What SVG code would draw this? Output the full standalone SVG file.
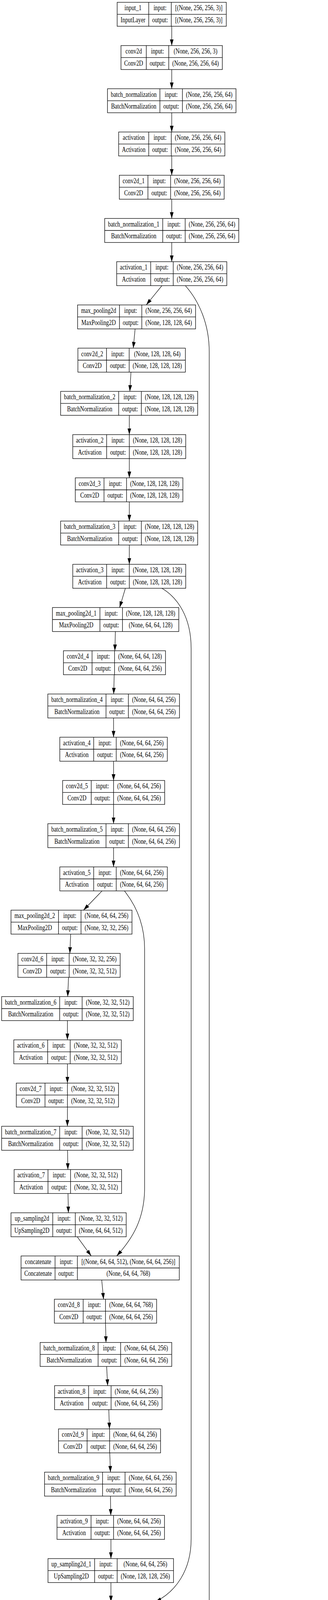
<svg xmlns="http://www.w3.org/2000/svg" width="840" height="7820" viewBox="0 0 840 7820">
<style>
.node rect,.node path{fill:none;stroke:#000;stroke-width:1.3}
.node text{font-family:"Liberation Serif","Times New Roman",serif;font-size:18.7px;text-anchor:middle;fill:#000;transform-box:fill-box;transform-origin:center;transform:scaleX(0.765)}
#connectors path{fill:none;stroke:#000;stroke-width:1.2;marker-end:url(#ah)}
</style>
<defs>
<marker id="ah" viewBox="0 0 16 9.4" refX="16" refY="4.7" markerWidth="16" markerHeight="9.4" markerUnits="userSpaceOnUse" orient="auto"><path d="M0,0L16,4.7L0,9.4z" fill="#000"/></marker>
</defs>
<rect width="840" height="7820" fill="#fff"/>
<g id="connectors">
<path d="M439.8 67.3V116.6"/>
<path d="M439.8 178V227.2"/>
<path d="M439.8 288.6V337.9"/>
<path d="M439.8 399.3V448.6"/>
<path d="M439.8 510V559.3"/>
<path d="M439.8 620.7V669.9"/>
<path d="M414.6 731.3L374.6 780.6"/>
<path d="M346 842L341.3 891.3"/>
<path d="M335.4 952.7L332.5 1001.9"/>
<path d="M331.2 1063.3V1112.6"/>
<path d="M331.2 1174V1223.3"/>
<path d="M331.2 1284.7V1333.9"/>
<path d="M331.2 1395.3V1444.6"/>
<path d="M321.1 1506L306.4 1555.3"/>
<path d="M295.5 1616.7L294.2 1665.9"/>
<path d="M292.5 1727.4L291.2 1776.6"/>
<path d="M290.8 1838V1887.3"/>
<path d="M290.8 1948.7V1998"/>
<path d="M290.8 2059.4V2108.6"/>
<path d="M290.8 2170V2219.3"/>
<path d="M261.4 2280.7L213.8 2330"/>
<path d="M181 2391.4L178.9 2440.6"/>
<path d="M175.5 2502L173.4 2551.3"/>
<path d="M172.6 2612.7V2662"/>
<path d="M172.6 2723.4V2772.7"/>
<path d="M172.6 2834.1V2883.3"/>
<path d="M173 2944.7L173.8 2994"/>
<path d="M174.2 3055.4L175.1 3104.7"/>
<path d="M197.8 3166.1L233.6 3215.3"/>
<path d="M260.5 3276.7L265.2 3326"/>
<path d="M270.2 3387.4L271.5 3436.7"/>
<path d="M273.1 3498.1L275.7 3547.3"/>
<path d="M278.6 3608.7L280.3 3658"/>
<path d="M281.1 3719.4L282.8 3768.7"/>
<path d="M282.8 3830.1L283.7 3879.4"/>
<path d="M284.1 3940.8V3990"/>
<path d="M284.1 4051.4V4100.7"/>
<path d="M284.5 4162.1L285.4 4211.4"/>
<path d="M292.5 4272.8L301.3 4322"/>
<path d="M311 4383.4L314.8 4432.7"/>
<path d="M319.9 4494.1L321.5 4543.4"/>
<path d="M324.5 4604.8L326.2 4654"/>
<path d="M328.7 4715.4L331.2 4764.7"/>
<path d="M335.9 4826.1L339.6 4875.4"/>
<path d="M368.3 4936.8L410.4 4986.1"/>
<path d="M436.9 5047.5V5096.7"/>
<path d="M436.9 5158.1V5207.4"/>
<path d="M436.9 5268.8V5318.1"/>
<path d="M436.9 5379.5V5428.7"/>
<path d="M436.9 5490.1V5539.4"/>
<path d="M436.9 5600.8V5650.1"/>
<path d="M436.9 5711.5V5760.7"/>
<path d="M436.9 5822.1V5871.4"/>
<path d="M436.9 5932.8V5982.1"/>
<path d="M436.9 6043.5V6092.8"/>
<path d="M436.9 6154.2V6203.4"/>
<path d="M436.9 6264.8V6314.1"/>
<path d="M436.9 6375.5V6424.8"/>
<path d="M436.9 6486.2V6535.4"/>
<path d="M436.9 6596.8V6646.1"/>
<path d="M436.9 6707.5V6756.8"/>
<path d="M436.9 6818.2V6867.4"/>
<path d="M436.9 6928.8V6978.1"/>
<path d="M436.9 7039.5V7088.8"/>
<path d="M436.9 7150.2V7199.5"/>
<path d="M436.9 7260.9V7310.1"/>
<path d="M436.9 7371.5V7420.8"/>
<path d="M436.9 7482.2V7531.5"/>
<path d="M436.9 7592.9V7642.1"/>
<path d="M436.9 7703.5V7752.8"/>
<path d="M474.7 731.3C510 771 535.8 830 535.8 900V4820C535.8 4900 510 4945 475.6 4986.1"/>
<path d="M414.6 1506C455 1530 489.5 1580 489.5 1660V3940C489.5 4020 450 4075 397.7 4100.7"/>
<path d="M318.6 2280.7C350 2320 370.4 2370 370.4 2430V3040C370.4 3120 340 3170 298.8 3215.3"/>
</g>
<g id="input_1" class="node" transform="translate(0,5.9)"><rect x="300.1" width="279.4" height="61.4"/><path d="M300.1 30.7H579.5M380.9 0V61.4M438.6 0V61.4"/><text x="340.5" y="20.4">input_1</text><text x="340.5" y="51.1">InputLayer</text><text x="409.8" y="20.4">input:</text><text x="409.8" y="51.1">output:</text><text x="509.1" y="20.4">[(None, 256, 256, 3)]</text><text x="509.1" y="51.1">[(None, 256, 256, 3)]</text></g>
<g id="conv2d" class="node" transform="translate(0,116.6)"><rect x="309.8" width="259.6" height="61.4"/><path d="M309.8 30.7H569.4M374.6 0V61.4M432.2 0V61.4"/><text x="342.2" y="20.4">conv2d</text><text x="342.2" y="51.1">Conv2D</text><text x="403.4" y="20.4">input:</text><text x="403.4" y="51.1">output:</text><text x="500.8" y="20.4">(None, 256, 256, 3)</text><text x="500.8" y="51.1">(None, 256, 256, 64)</text></g>
<g id="batch_normalization" class="node" transform="translate(0,227.2)"><rect x="275.3" width="329.1" height="61.4"/><path d="M275.3 30.7H604.4M409.5 0V61.4M467.2 0V61.4"/><text x="342.4" y="20.4">batch_normalization</text><text x="342.4" y="51.1">BatchNormalization</text><text x="438.4" y="20.4">input:</text><text x="438.4" y="51.1">output:</text><text x="535.8" y="20.4">(None, 256, 256, 64)</text><text x="535.8" y="51.1">(None, 256, 256, 64)</text></g>
<g id="activation" class="node" transform="translate(0,337.9)"><rect x="303.9" width="271.9" height="61.4"/><path d="M303.9 30.7H575.8M380.9 0V61.4M438.6 0V61.4"/><text x="342.4" y="20.4">activation</text><text x="342.4" y="51.1">Activation</text><text x="409.8" y="20.4">input:</text><text x="409.8" y="51.1">output:</text><text x="507.2" y="20.4">(None, 256, 256, 64)</text><text x="507.2" y="51.1">(None, 256, 256, 64)</text></g>
<g id="conv2d_1" class="node" transform="translate(0,448.6)"><rect x="305.6" width="268.5" height="61.4"/><path d="M305.6 30.7H574.1M378.8 0V61.4M436.9 0V61.4"/><text x="342.2" y="20.4">conv2d_1</text><text x="342.2" y="51.1">Conv2D</text><text x="407.9" y="20.4">input:</text><text x="407.9" y="51.1">output:</text><text x="505.5" y="20.4">(None, 256, 256, 64)</text><text x="505.5" y="51.1">(None, 256, 256, 64)</text></g>
<g id="batch_normalization_1" class="node" transform="translate(0,559.3)"><rect x="268.1" width="343.4" height="61.4"/><path d="M268.1 30.7H611.5M416.7 0V61.4M474.3 0V61.4"/><text x="342.4" y="20.4">batch_normalization_1</text><text x="342.4" y="51.1">BatchNormalization</text><text x="445.5" y="20.4">input:</text><text x="445.5" y="51.1">output:</text><text x="542.9" y="20.4">(None, 256, 256, 64)</text><text x="542.9" y="51.1">(None, 256, 256, 64)</text></g>
<g id="activation_1" class="node" transform="translate(0,669.9)"><rect x="298.8" width="282" height="61.4"/><path d="M298.8 30.7H580.8M385.9 0V61.4M443.6 0V61.4"/><text x="342.4" y="20.4">activation_1</text><text x="342.4" y="51.1">Activation</text><text x="414.8" y="20.4">input:</text><text x="414.8" y="51.1">output:</text><text x="512.2" y="20.4">(None, 256, 256, 64)</text><text x="512.2" y="51.1">(None, 256, 256, 64)</text></g>
<g id="max_pooling2d" class="node" transform="translate(0,780.6)"><rect x="198.7" width="302.1" height="61.4"/><path d="M198.7 30.7H500.8M306 0V61.4M363.2 0V61.4"/><text x="252.4" y="20.4">max_pooling2d</text><text x="252.4" y="51.1">MaxPooling2D</text><text x="334.6" y="20.4">input:</text><text x="334.6" y="51.1">output:</text><text x="432" y="20.4">(None, 256, 256, 64)</text><text x="432" y="51.1">(None, 128, 128, 64)</text></g>
<g id="conv2d_2" class="node" transform="translate(0,891.3)"><rect x="199.5" width="275.2" height="61.4"/><path d="M199.5 30.7H474.7M272.7 0V61.4M330.8 0V61.4"/><text x="236.1" y="20.4">conv2d_2</text><text x="236.1" y="51.1">Conv2D</text><text x="301.8" y="20.4">input:</text><text x="301.8" y="51.1">output:</text><text x="402.8" y="20.4">(None, 128, 128, 64)</text><text x="402.8" y="51.1">(None, 128, 128, 128)</text></g>
<g id="batch_normalization_2" class="node" transform="translate(0,1001.9)"><rect x="155.3" width="351" height="61.4"/><path d="M155.3 30.7H506.3M303.9 0V61.4M362 0V61.4"/><text x="229.6" y="20.4">batch_normalization_2</text><text x="229.6" y="51.1">BatchNormalization</text><text x="333" y="20.4">input:</text><text x="333" y="51.1">output:</text><text x="434.2" y="20.4">(None, 128, 128, 128)</text><text x="434.2" y="51.1">(None, 128, 128, 128)</text></g>
<g id="activation_2" class="node" transform="translate(0,1112.6)"><rect x="186.4" width="289.2" height="61.4"/><path d="M186.4 30.7H475.6M273.1 0V61.4M331.2 0V61.4"/><text x="229.8" y="20.4">activation_2</text><text x="229.8" y="51.1">Activation</text><text x="302.2" y="20.4">input:</text><text x="302.2" y="51.1">output:</text><text x="403.4" y="20.4">(None, 128, 128, 128)</text><text x="403.4" y="51.1">(None, 128, 128, 128)</text></g>
<g id="conv2d_3" class="node" transform="translate(0,1223.3)"><rect x="192.8" width="275.6" height="61.4"/><path d="M192.8 30.7H468.4M266.4 0V61.4M324.1 0V61.4"/><text x="229.6" y="20.4">conv2d_3</text><text x="229.6" y="51.1">Conv2D</text><text x="295.3" y="20.4">input:</text><text x="295.3" y="51.1">output:</text><text x="396.3" y="20.4">(None, 128, 128, 128)</text><text x="396.3" y="51.1">(None, 128, 128, 128)</text></g>
<g id="batch_normalization_3" class="node" transform="translate(0,1333.9)"><rect x="155.3" width="351" height="61.4"/><path d="M155.3 30.7H506.3M303.9 0V61.4M362 0V61.4"/><text x="229.6" y="20.4">batch_normalization_3</text><text x="229.6" y="51.1">BatchNormalization</text><text x="333" y="20.4">input:</text><text x="333" y="51.1">output:</text><text x="434.2" y="20.4">(None, 128, 128, 128)</text><text x="434.2" y="51.1">(None, 128, 128, 128)</text></g>
<g id="activation_3" class="node" transform="translate(0,1444.6)"><rect x="186.4" width="289.2" height="61.4"/><path d="M186.4 30.7H475.6M273.1 0V61.4M331.2 0V61.4"/><text x="229.8" y="20.4">activation_3</text><text x="229.8" y="51.1">Activation</text><text x="302.2" y="20.4">input:</text><text x="302.2" y="51.1">output:</text><text x="403.4" y="20.4">(None, 128, 128, 128)</text><text x="403.4" y="51.1">(None, 128, 128, 128)</text></g>
<g id="max_pooling2d_1" class="node" transform="translate(0,1555.3)"><rect x="134.3" width="323.6" height="61.4"/><path d="M134.3 30.7H457.9M255.9 0V61.4M313.6 0V61.4"/><text x="195.1" y="20.4">max_pooling2d_1</text><text x="195.1" y="51.1">MaxPooling2D</text><text x="284.8" y="20.4">input:</text><text x="284.8" y="51.1">output:</text><text x="385.8" y="20.4">(None, 128, 128, 128)</text><text x="385.8" y="51.1">(None, 64, 64, 128)</text></g>
<g id="conv2d_4" class="node" transform="translate(0,1665.9)"><rect x="162.5" width="261.3" height="61.4"/><path d="M162.5 30.7H423.8M235.7 0V61.4M293.4 0V61.4"/><text x="199.1" y="20.4">conv2d_4</text><text x="199.1" y="51.1">Conv2D</text><text x="264.6" y="20.4">input:</text><text x="264.6" y="51.1">output:</text><text x="358.6" y="20.4">(None, 64, 64, 128)</text><text x="358.6" y="51.1">(None, 64, 64, 256)</text></g>
<g id="batch_normalization_4" class="node" transform="translate(0,1776.6)"><rect x="122.5" width="337.1" height="61.4"/><path d="M122.5 30.7H459.6M271.5 0V61.4M328.7 0V61.4"/><text x="197" y="20.4">batch_normalization_4</text><text x="197" y="51.1">BatchNormalization</text><text x="300.1" y="20.4">input:</text><text x="300.1" y="51.1">output:</text><text x="394.2" y="20.4">(None, 64, 64, 256)</text><text x="394.2" y="51.1">(None, 64, 64, 256)</text></g>
<g id="activation_4" class="node" transform="translate(0,1887.3)"><rect x="153.2" width="275.3" height="61.4"/><path d="M153.2 30.7H428.5M239.9 0V61.4M297.6 0V61.4"/><text x="196.6" y="20.4">activation_4</text><text x="196.6" y="51.1">Activation</text><text x="268.8" y="20.4">input:</text><text x="268.8" y="51.1">output:</text><text x="363.1" y="20.4">(None, 64, 64, 256)</text><text x="363.1" y="51.1">(None, 64, 64, 256)</text></g>
<g id="conv2d_5" class="node" transform="translate(0,1998)"><rect x="160.4" width="261.3" height="61.4"/><path d="M160.4 30.7H421.7M233.6 0V61.4M290.8 0V61.4"/><text x="197" y="20.4">conv2d_5</text><text x="197" y="51.1">Conv2D</text><text x="262.2" y="20.4">input:</text><text x="262.2" y="51.1">output:</text><text x="356.3" y="20.4">(None, 64, 64, 256)</text><text x="356.3" y="51.1">(None, 64, 64, 256)</text></g>
<g id="batch_normalization_5" class="node" transform="translate(0,2108.6)"><rect x="122.5" width="337.1" height="61.4"/><path d="M122.5 30.7H459.6M271.5 0V61.4M328.7 0V61.4"/><text x="197" y="20.4">batch_normalization_5</text><text x="197" y="51.1">BatchNormalization</text><text x="300.1" y="20.4">input:</text><text x="300.1" y="51.1">output:</text><text x="394.2" y="20.4">(None, 64, 64, 256)</text><text x="394.2" y="51.1">(None, 64, 64, 256)</text></g>
<g id="activation_5" class="node" transform="translate(0,2219.3)"><rect x="153.2" width="275.3" height="61.4"/><path d="M153.2 30.7H428.5M239.9 0V61.4M297.6 0V61.4"/><text x="196.6" y="20.4">activation_5</text><text x="196.6" y="51.1">Activation</text><text x="268.8" y="20.4">input:</text><text x="268.8" y="51.1">output:</text><text x="363.1" y="20.4">(None, 64, 64, 256)</text><text x="363.1" y="51.1">(None, 64, 64, 256)</text></g>
<g id="max_pooling2d_2" class="node" transform="translate(0,2330)"><rect x="28.2" width="309.8" height="61.4"/><path d="M28.2 30.7H338M149.8 0V61.4M207.5 0V61.4"/><text x="89" y="20.4">max_pooling2d_2</text><text x="89" y="51.1">MaxPooling2D</text><text x="178.7" y="20.4">input:</text><text x="178.7" y="51.1">output:</text><text x="272.8" y="20.4">(None, 64, 64, 256)</text><text x="272.8" y="51.1">(None, 32, 32, 256)</text></g>
<g id="conv2d_6" class="node" transform="translate(0,2440.6)"><rect x="45.9" width="261.8" height="61.4"/><path d="M45.9 30.7H307.7M119.5 0V61.4M177.2 0V61.4"/><text x="82.7" y="20.4">conv2d_6</text><text x="82.7" y="51.1">Conv2D</text><text x="148.4" y="20.4">input:</text><text x="148.4" y="51.1">output:</text><text x="242.5" y="20.4">(None, 32, 32, 256)</text><text x="242.5" y="51.1">(None, 32, 32, 512)</text></g>
<g id="batch_normalization_6" class="node" transform="translate(0,2551.3)"><rect x="4.2" width="337.1" height="61.4"/><path d="M4.2 30.7H341.3M152.8 0V61.4M210.4 0V61.4"/><text x="78.5" y="20.4">batch_normalization_6</text><text x="78.5" y="51.1">BatchNormalization</text><text x="181.6" y="20.4">input:</text><text x="181.6" y="51.1">output:</text><text x="275.9" y="20.4">(None, 32, 32, 512)</text><text x="275.9" y="51.1">(None, 32, 32, 512)</text></g>
<g id="activation_6" class="node" transform="translate(0,2662)"><rect x="35.4" width="275.2" height="61.4"/><path d="M35.4 30.7H310.6M122.1 0V61.4M179.7 0V61.4"/><text x="78.8" y="20.4">activation_6</text><text x="78.8" y="51.1">Activation</text><text x="150.9" y="20.4">input:</text><text x="150.9" y="51.1">output:</text><text x="245.2" y="20.4">(None, 32, 32, 512)</text><text x="245.2" y="51.1">(None, 32, 32, 512)</text></g>
<g id="conv2d_7" class="node" transform="translate(0,2772.7)"><rect x="41.7" width="261.8" height="61.4"/><path d="M41.7 30.7H303.5M115.3 0V61.4M172.6 0V61.4"/><text x="78.5" y="20.4">conv2d_7</text><text x="78.5" y="51.1">Conv2D</text><text x="144" y="20.4">input:</text><text x="144" y="51.1">output:</text><text x="238.1" y="20.4">(None, 32, 32, 512)</text><text x="238.1" y="51.1">(None, 32, 32, 512)</text></g>
<g id="batch_normalization_7" class="node" transform="translate(0,2883.3)"><rect x="4.2" width="337.1" height="61.4"/><path d="M4.2 30.7H341.3M152.8 0V61.4M210.4 0V61.4"/><text x="78.5" y="20.4">batch_normalization_7</text><text x="78.5" y="51.1">BatchNormalization</text><text x="181.6" y="20.4">input:</text><text x="181.6" y="51.1">output:</text><text x="275.9" y="20.4">(None, 32, 32, 512)</text><text x="275.9" y="51.1">(None, 32, 32, 512)</text></g>
<g id="activation_7" class="node" transform="translate(0,2994)"><rect x="36.2" width="275.2" height="61.4"/><path d="M36.2 30.7H311.4M122.9 0V61.4M180.6 0V61.4"/><text x="79.6" y="20.4">activation_7</text><text x="79.6" y="51.1">Activation</text><text x="151.8" y="20.4">input:</text><text x="151.8" y="51.1">output:</text><text x="246" y="20.4">(None, 32, 32, 512)</text><text x="246" y="51.1">(None, 32, 32, 512)</text></g>
<g id="up_sampling2d" class="node" transform="translate(0,3104.7)"><rect x="28.2" width="295" height="61.4"/><path d="M28.2 30.7H323.2M135.1 0V61.4M192.8 0V61.4"/><text x="81.7" y="20.4">up_sampling2d</text><text x="81.7" y="51.1">UpSampling2D</text><text x="164" y="20.4">input:</text><text x="164" y="51.1">output:</text><text x="258" y="20.4">(None, 32, 32, 512)</text><text x="258" y="51.1">(None, 64, 64, 512)</text></g>
<g id="concatenate" class="node" transform="translate(0,3215.3)"><rect x="53.9" width="405.3" height="61.4"/><path d="M53.9 30.7H459.2M141 0V61.4M198.2 0V61.4"/><text x="97.5" y="20.4">concatenate</text><text x="97.5" y="51.1">Concatenate</text><text x="169.6" y="20.4">input:</text><text x="169.6" y="51.1">output:</text><text x="328.7" y="20.4">[(None, 64, 64, 512), (None, 64, 64, 256)]</text><text x="328.7" y="51.1">(None, 64, 64, 768)</text></g>
<g id="conv2d_8" class="node" transform="translate(0,3326)"><rect x="139.3" width="261.8" height="61.4"/><path d="M139.3 30.7H401.1M213 0V61.4M270.2 0V61.4"/><text x="176.2" y="20.4">conv2d_8</text><text x="176.2" y="51.1">Conv2D</text><text x="241.6" y="20.4">input:</text><text x="241.6" y="51.1">output:</text><text x="335.7" y="20.4">(None, 64, 64, 768)</text><text x="335.7" y="51.1">(None, 64, 64, 256)</text></g>
<g id="batch_normalization_8" class="node" transform="translate(0,3436.7)"><rect x="102.7" width="337.1" height="61.4"/><path d="M102.7 30.7H439.8M251.3 0V61.4M308.9 0V61.4"/><text x="177" y="20.4">batch_normalization_8</text><text x="177" y="51.1">BatchNormalization</text><text x="280.1" y="20.4">input:</text><text x="280.1" y="51.1">output:</text><text x="374.4" y="20.4">(None, 64, 64, 256)</text><text x="374.4" y="51.1">(None, 64, 64, 256)</text></g>
<g id="activation_8" class="node" transform="translate(0,3547.3)"><rect x="139.7" width="275.3" height="61.4"/><path d="M139.7 30.7H415M226.9 0V61.4M284.5 0V61.4"/><text x="183.3" y="20.4">activation_8</text><text x="183.3" y="51.1">Activation</text><text x="255.7" y="20.4">input:</text><text x="255.7" y="51.1">output:</text><text x="349.8" y="20.4">(None, 64, 64, 256)</text><text x="349.8" y="51.1">(None, 64, 64, 256)</text></g>
<g id="conv2d_9" class="node" transform="translate(0,3658)"><rect x="149.8" width="261.4" height="61.4"/><path d="M149.8 30.7H411.2M223.1 0V61.4M280.7 0V61.4"/><text x="186.5" y="20.4">conv2d_9</text><text x="186.5" y="51.1">Conv2D</text><text x="251.9" y="20.4">input:</text><text x="251.9" y="51.1">output:</text><text x="346" y="20.4">(None, 64, 64, 256)</text><text x="346" y="51.1">(None, 64, 64, 256)</text></g>
<g id="batch_normalization_9" class="node" transform="translate(0,3768.7)"><rect x="114.1" width="337.1" height="61.4"/><path d="M114.1 30.7H451.2M262.6 0V61.4M320.3 0V61.4"/><text x="188.4" y="20.4">batch_normalization_9</text><text x="188.4" y="51.1">BatchNormalization</text><text x="291.5" y="20.4">input:</text><text x="291.5" y="51.1">output:</text><text x="385.8" y="20.4">(None, 64, 64, 256)</text><text x="385.8" y="51.1">(None, 64, 64, 256)</text></g>
<g id="activation_9" class="node" transform="translate(0,3879.4)"><rect x="146" width="275.3" height="61.4"/><path d="M146 30.7H421.3M233.2 0V61.4M290.8 0V61.4"/><text x="189.6" y="20.4">activation_9</text><text x="189.6" y="51.1">Activation</text><text x="262" y="20.4">input:</text><text x="262" y="51.1">output:</text><text x="356.1" y="20.4">(None, 64, 64, 256)</text><text x="356.1" y="51.1">(None, 64, 64, 256)</text></g>
<g id="up_sampling2d_1" class="node" transform="translate(0,3990)"><rect x="122.9" width="321.5" height="61.4"/><path d="M122.9 30.7H444.4M242.4 0V61.4M300.1 0V61.4"/><text x="182.7" y="20.4">up_sampling2d_1</text><text x="182.7" y="51.1">UpSampling2D</text><text x="271.3" y="20.4">input:</text><text x="271.3" y="51.1">output:</text><text x="372.3" y="20.4">(None, 64, 64, 256)</text><text x="372.3" y="51.1">(None, 128, 128, 256)</text></g>
<g id="concatenate_1" class="node" transform="translate(0,4100.7)"><rect x="61.4" width="444.9" height="61.4"/><path d="M61.4 30.7H506.3M159.9 0V61.4M217.6 0V61.4"/><text x="110.7" y="20.4">concatenate_1</text><text x="110.7" y="51.1">Concatenate</text><text x="188.8" y="20.4">input:</text><text x="188.8" y="51.1">output:</text><text x="362" y="20.4">[(None, 128, 128, 256), (None, 128, 128, 128)]</text><text x="362" y="51.1">(None, 128, 128, 384)</text></g>
<g id="conv2d_10" class="node" transform="translate(0,4211.4)"><rect x="144.4" width="282.8" height="61.4"/><path d="M144.4 30.7H427.2M225.2 0V61.4M282.8 0V61.4"/><text x="184.8" y="20.4">conv2d_10</text><text x="184.8" y="51.1">Conv2D</text><text x="254" y="20.4">input:</text><text x="254" y="51.1">output:</text><text x="355" y="20.4">(None, 128, 128, 384)</text><text x="355" y="51.1">(None, 128, 128, 128)</text></g>
<g id="batch_normalization_10" class="node" transform="translate(0,4322)"><rect x="128.8" width="358.2" height="61.4"/><path d="M128.8 30.7H487M284.9 0V61.4M342.6 0V61.4"/><text x="206.9" y="20.4">batch_normalization_10</text><text x="206.9" y="51.1">BatchNormalization</text><text x="313.8" y="20.4">input:</text><text x="313.8" y="51.1">output:</text><text x="414.8" y="20.4">(None, 128, 128, 128)</text><text x="414.8" y="51.1">(None, 128, 128, 128)</text></g>
<g id="activation_10" class="node" transform="translate(0,4432.7)"><rect x="170" width="296.8" height="61.4"/><path d="M170 30.7H466.8M264.3 0V61.4M321.5 0V61.4"/><text x="217.2" y="20.4">activation_10</text><text x="217.2" y="51.1">Activation</text><text x="292.9" y="20.4">input:</text><text x="292.9" y="51.1">output:</text><text x="394.2" y="20.4">(None, 128, 128, 128)</text><text x="394.2" y="51.1">(None, 128, 128, 128)</text></g>
<g id="conv2d_11" class="node" transform="translate(0,4543.4)"><rect x="181.8" width="283.3" height="61.4"/><path d="M181.8 30.7H465.1M262.6 0V61.4M320.3 0V61.4"/><text x="222.2" y="20.4">conv2d_11</text><text x="222.2" y="51.1">Conv2D</text><text x="291.5" y="20.4">input:</text><text x="291.5" y="51.1">output:</text><text x="392.7" y="20.4">(None, 128, 128, 128)</text><text x="392.7" y="51.1">(None, 128, 128, 128)</text></g>
<g id="batch_normalization_11" class="node" transform="translate(0,4654)"><rect x="147.3" width="358.6" height="61.4"/><path d="M147.3 30.7H505.9M303.5 0V61.4M361.1 0V61.4"/><text x="225.4" y="20.4">batch_normalization_11</text><text x="225.4" y="51.1">BatchNormalization</text><text x="332.3" y="20.4">input:</text><text x="332.3" y="51.1">output:</text><text x="433.5" y="20.4">(None, 128, 128, 128)</text><text x="433.5" y="51.1">(None, 128, 128, 128)</text></g>
<g id="activation_11" class="node" transform="translate(0,4764.7)"><rect x="185.2" width="295.9" height="61.4"/><path d="M185.2 30.7H481.1M279.5 0V61.4M336.7 0V61.4"/><text x="232.4" y="20.4">activation_11</text><text x="232.4" y="51.1">Activation</text><text x="308.1" y="20.4">input:</text><text x="308.1" y="51.1">output:</text><text x="408.9" y="20.4">(None, 128, 128, 128)</text><text x="408.9" y="51.1">(None, 128, 128, 128)</text></g>
<g id="up_sampling2d_2" class="node" transform="translate(0,4875.4)"><rect x="181.4" width="322" height="61.4"/><path d="M181.4 30.7H503.4M301.3 0V61.4M358.6 0V61.4"/><text x="241.4" y="20.4">up_sampling2d_2</text><text x="241.4" y="51.1">UpSampling2D</text><text x="330" y="20.4">input:</text><text x="330" y="51.1">output:</text><text x="431" y="20.4">(None, 128, 128, 128)</text><text x="431" y="51.1">(None, 256, 256, 128)</text></g>
<g id="concatenate_2" class="node" transform="translate(0,4986.1)"><rect x="217.6" width="438.1" height="61.4"/><path d="M217.6 30.7H655.7M316.1 0V61.4M373.7 0V61.4"/><text x="266.9" y="20.4">concatenate_2</text><text x="266.9" y="51.1">Concatenate</text><text x="344.9" y="20.4">input:</text><text x="344.9" y="51.1">output:</text><text x="514.7" y="20.4">[(None, 256, 256, 128), (None, 256, 256, 64)]</text><text x="514.7" y="51.1">(None, 256, 256, 192)</text></g>
<g id="conv2d_12" class="node" transform="translate(0,5096.7)"><rect x="295.5" width="282.8" height="61.4"/><path d="M295.5 30.7H578.3M375.8 0V61.4M433.5 0V61.4"/><text x="335.7" y="20.4">conv2d_12</text><text x="335.7" y="51.1">Conv2D</text><text x="404.7" y="20.4">input:</text><text x="404.7" y="51.1">output:</text><text x="505.9" y="20.4">(None, 256, 256, 192)</text><text x="505.9" y="51.1">(None, 256, 256, 64)</text></g>
<g id="batch_normalization_12" class="node" transform="translate(0,5207.4)"><rect x="261.4" width="351" height="61.4"/><path d="M261.4 30.7H612.4M417.5 0V61.4M474.7 0V61.4"/><text x="339.5" y="20.4">batch_normalization_12</text><text x="339.5" y="51.1">BatchNormalization</text><text x="446.1" y="20.4">input:</text><text x="446.1" y="51.1">output:</text><text x="543.6" y="20.4">(None, 256, 256, 64)</text><text x="543.6" y="51.1">(None, 256, 256, 64)</text></g>
<g id="activation_12" class="node" transform="translate(0,5318.1)"><rect x="292.1" width="289.1" height="61.4"/><path d="M292.1 30.7H581.2M386.4 0V61.4M444 0V61.4"/><text x="339.3" y="20.4">activation_12</text><text x="339.3" y="51.1">Activation</text><text x="415.2" y="20.4">input:</text><text x="415.2" y="51.1">output:</text><text x="512.6" y="20.4">(None, 256, 256, 64)</text><text x="512.6" y="51.1">(None, 256, 256, 64)</text></g>
<g id="conv2d_13" class="node" transform="translate(0,5428.7)"><rect x="298.8" width="275.7" height="61.4"/><path d="M298.8 30.7H574.5M379.6 0V61.4M437.3 0V61.4"/><text x="339.2" y="20.4">conv2d_13</text><text x="339.2" y="51.1">Conv2D</text><text x="408.5" y="20.4">input:</text><text x="408.5" y="51.1">output:</text><text x="505.9" y="20.4">(None, 256, 256, 64)</text><text x="505.9" y="51.1">(None, 256, 256, 64)</text></g>
<g id="batch_normalization_13" class="node" transform="translate(0,5539.4)"><rect x="261.4" width="351" height="61.4"/><path d="M261.4 30.7H612.4M417.5 0V61.4M474.7 0V61.4"/><text x="339.5" y="20.4">batch_normalization_13</text><text x="339.5" y="51.1">BatchNormalization</text><text x="446.1" y="20.4">input:</text><text x="446.1" y="51.1">output:</text><text x="543.6" y="20.4">(None, 256, 256, 64)</text><text x="543.6" y="51.1">(None, 256, 256, 64)</text></g>
<g id="activation_13" class="node" transform="translate(0,5650.1)"><rect x="292.1" width="289.1" height="61.4"/><path d="M292.1 30.7H581.2M386.4 0V61.4M444 0V61.4"/><text x="339.3" y="20.4">activation_13</text><text x="339.3" y="51.1">Activation</text><text x="415.2" y="20.4">input:</text><text x="415.2" y="51.1">output:</text><text x="512.6" y="20.4">(None, 256, 256, 64)</text><text x="512.6" y="51.1">(None, 256, 256, 64)</text></g>
<g id="conv2d_14" class="node" transform="translate(0,5760.7)"><rect x="298.8" width="275.7" height="61.4"/><path d="M298.8 30.7H574.5M379.6 0V61.4M437.3 0V61.4"/><text x="339.2" y="20.4">conv2d_14</text><text x="339.2" y="51.1">Conv2D</text><text x="408.5" y="20.4">input:</text><text x="408.5" y="51.1">output:</text><text x="505.9" y="20.4">(None, 256, 256, 64)</text><text x="505.9" y="51.1">(None, 256, 256, 1)</text></g>
<g id="conv2d_15" class="node" transform="translate(0,5871.4)"><rect x="298.8" width="275.7" height="61.4"/><path d="M298.8 30.7H574.5M379.6 0V61.4M437.3 0V61.4"/><text x="339.2" y="20.4">conv2d_15</text><text x="339.2" y="51.1">Conv2D</text><text x="408.5" y="20.4">input:</text><text x="408.5" y="51.1">output:</text><text x="505.9" y="20.4">(None, 256, 256, 1)</text><text x="505.9" y="51.1">(None, 256, 256, 32)</text></g>
<g id="batch_normalization_14" class="node" transform="translate(0,5982.1)"><rect x="261.4" width="351" height="61.4"/><path d="M261.4 30.7H612.4M417.5 0V61.4M474.7 0V61.4"/><text x="339.5" y="20.4">batch_normalization_14</text><text x="339.5" y="51.1">BatchNormalization</text><text x="446.1" y="20.4">input:</text><text x="446.1" y="51.1">output:</text><text x="543.6" y="20.4">(None, 256, 256, 32)</text><text x="543.6" y="51.1">(None, 256, 256, 32)</text></g>
<g id="activation_14" class="node" transform="translate(0,6092.8)"><rect x="292.1" width="289.1" height="61.4"/><path d="M292.1 30.7H581.2M386.4 0V61.4M444 0V61.4"/><text x="339.3" y="20.4">activation_14</text><text x="339.3" y="51.1">Activation</text><text x="415.2" y="20.4">input:</text><text x="415.2" y="51.1">output:</text><text x="512.6" y="20.4">(None, 256, 256, 32)</text><text x="512.6" y="51.1">(None, 256, 256, 32)</text></g>
<g id="max_pooling2d_3" class="node" transform="translate(0,6203.4)"><rect x="278.6" width="316.1" height="61.4"/><path d="M278.6 30.7H594.7M399.8 0V61.4M457.5 0V61.4"/><text x="339.2" y="20.4">max_pooling2d_3</text><text x="339.2" y="51.1">MaxPooling2D</text><text x="428.7" y="20.4">input:</text><text x="428.7" y="51.1">output:</text><text x="526.1" y="20.4">(None, 256, 256, 32)</text><text x="526.1" y="51.1">(None, 64, 64, 32)</text></g>
<g id="conv2d_16" class="node" transform="translate(0,6314.1)"><rect x="305.6" width="262.2" height="61.4"/><path d="M305.6 30.7H567.8M386.4 0V61.4M444 0V61.4"/><text x="346" y="20.4">conv2d_16</text><text x="346" y="51.1">Conv2D</text><text x="415.2" y="20.4">input:</text><text x="415.2" y="51.1">output:</text><text x="505.9" y="20.4">(None, 64, 64, 32)</text><text x="505.9" y="51.1">(None, 64, 64, 64)</text></g>
<g id="batch_normalization_15" class="node" transform="translate(0,6424.8)"><rect x="268.1" width="337.1" height="61.4"/><path d="M268.1 30.7H605.2M424.2 0V61.4M481.5 0V61.4"/><text x="346.2" y="20.4">batch_normalization_15</text><text x="346.2" y="51.1">BatchNormalization</text><text x="452.9" y="20.4">input:</text><text x="452.9" y="51.1">output:</text><text x="543.4" y="20.4">(None, 64, 64, 64)</text><text x="543.4" y="51.1">(None, 64, 64, 64)</text></g>
<g id="activation_15" class="node" transform="translate(0,6535.4)"><rect x="298.8" width="275.7" height="61.4"/><path d="M298.8 30.7H574.5M393.1 0V61.4M450.8 0V61.4"/><text x="346" y="20.4">activation_15</text><text x="346" y="51.1">Activation</text><text x="422" y="20.4">input:</text><text x="422" y="51.1">output:</text><text x="512.7" y="20.4">(None, 64, 64, 64)</text><text x="512.7" y="51.1">(None, 64, 64, 64)</text></g>
<g id="max_pooling2d_4" class="node" transform="translate(0,6646.1)"><rect x="285.4" width="302.6" height="61.4"/><path d="M285.4 30.7H588M407 0V61.4M464.2 0V61.4"/><text x="346.2" y="20.4">max_pooling2d_4</text><text x="346.2" y="51.1">MaxPooling2D</text><text x="435.6" y="20.4">input:</text><text x="435.6" y="51.1">output:</text><text x="526.1" y="20.4">(None, 64, 64, 64)</text><text x="526.1" y="51.1">(None, 16, 16, 64)</text></g>
<g id="conv2d_17" class="node" transform="translate(0,6756.8)"><rect x="305.6" width="262.2" height="61.4"/><path d="M305.6 30.7H567.8M386.4 0V61.4M444 0V61.4"/><text x="346" y="20.4">conv2d_17</text><text x="346" y="51.1">Conv2D</text><text x="415.2" y="20.4">input:</text><text x="415.2" y="51.1">output:</text><text x="505.9" y="20.4">(None, 16, 16, 64)</text><text x="505.9" y="51.1">(None, 16, 16, 64)</text></g>
<g id="batch_normalization_16" class="node" transform="translate(0,6867.4)"><rect x="268.1" width="337.1" height="61.4"/><path d="M268.1 30.7H605.2M424.2 0V61.4M481.5 0V61.4"/><text x="346.2" y="20.4">batch_normalization_16</text><text x="346.2" y="51.1">BatchNormalization</text><text x="452.9" y="20.4">input:</text><text x="452.9" y="51.1">output:</text><text x="543.4" y="20.4">(None, 16, 16, 64)</text><text x="543.4" y="51.1">(None, 16, 16, 64)</text></g>
<g id="activation_16" class="node" transform="translate(0,6978.1)"><rect x="298.8" width="275.7" height="61.4"/><path d="M298.8 30.7H574.5M393.1 0V61.4M450.8 0V61.4"/><text x="346" y="20.4">activation_16</text><text x="346" y="51.1">Activation</text><text x="422" y="20.4">input:</text><text x="422" y="51.1">output:</text><text x="512.7" y="20.4">(None, 16, 16, 64)</text><text x="512.7" y="51.1">(None, 16, 16, 64)</text></g>
<g id="max_pooling2d_5" class="node" transform="translate(0,7088.8)"><rect x="285.4" width="302.6" height="61.4"/><path d="M285.4 30.7H588M407 0V61.4M464.2 0V61.4"/><text x="346.2" y="20.4">max_pooling2d_5</text><text x="346.2" y="51.1">MaxPooling2D</text><text x="435.6" y="20.4">input:</text><text x="435.6" y="51.1">output:</text><text x="526.1" y="20.4">(None, 16, 16, 64)</text><text x="526.1" y="51.1">(None, 4, 4, 64)</text></g>
<g id="flatten" class="node" transform="translate(0,7199.5)"><rect x="324.9" width="223.5" height="61.4"/><path d="M324.9 30.7H548.4M381.3 0V61.4M439 0V61.4"/><text x="353.1" y="20.4">flatten</text><text x="353.1" y="51.1">Flatten</text><text x="410.2" y="20.4">input:</text><text x="410.2" y="51.1">output:</text><text x="493.7" y="20.4">(None, 4, 4, 64)</text><text x="493.7" y="51.1">(None, 1024)</text></g>
<g id="dense" class="node" transform="translate(0,7310.1)"><rect x="335" width="203.3" height="61.4"/><path d="M335 30.7H538.3M387.2 0V61.4M444.9 0V61.4"/><text x="361.1" y="20.4">dense</text><text x="361.1" y="51.1">Dense</text><text x="416.1" y="20.4">input:</text><text x="416.1" y="51.1">output:</text><text x="491.6" y="20.4">(None, 1024)</text><text x="491.6" y="51.1">(None, 1024)</text></g>
<g id="dropout" class="node" transform="translate(0,7420.8)"><rect x="328.7" width="215.5" height="61.4"/><path d="M328.7 30.7H544.2M393.5 0V61.4M450.8 0V61.4"/><text x="361.1" y="20.4">dropout</text><text x="361.1" y="51.1">Dropout</text><text x="422.2" y="20.4">input:</text><text x="422.2" y="51.1">output:</text><text x="497.5" y="20.4">(None, 1024)</text><text x="497.5" y="51.1">(None, 1024)</text></g>
<g id="batch_normalization_17" class="node" transform="translate(0,7531.5)"><rect x="283.2" width="306.9" height="61.4"/><path d="M283.2 30.7H590.1M439 0V61.4M497.1 0V61.4"/><text x="361.1" y="20.4">batch_normalization_17</text><text x="361.1" y="51.1">BatchNormalization</text><text x="468.1" y="20.4">input:</text><text x="468.1" y="51.1">output:</text><text x="543.6" y="20.4">(None, 1024)</text><text x="543.6" y="51.1">(None, 1024)</text></g>
<g id="activation_17" class="node" transform="translate(0,7642.1)"><rect x="314" width="245.3" height="61.4"/><path d="M314 30.7H559.3M408.2 0V61.4M465.9 0V61.4"/><text x="361.1" y="20.4">activation_17</text><text x="361.1" y="51.1">Activation</text><text x="437.1" y="20.4">input:</text><text x="437.1" y="51.1">output:</text><text x="512.6" y="20.4">(None, 1024)</text><text x="512.6" y="51.1">(None, 1024)</text></g>
<g id="dense_1" class="node" transform="translate(0,7752.8)"><rect x="329.1" width="215.1" height="61.4"/><path d="M329.1 30.7H544.2M393.1 0V61.4M450.8 0V61.4"/><text x="361.1" y="20.4">dense_1</text><text x="361.1" y="51.1">Dense</text><text x="422" y="20.4">input:</text><text x="422" y="51.1">output:</text><text x="497.5" y="20.4">(None, 1024)</text><text x="497.5" y="51.1">(None, 2)</text></g>
</svg>
